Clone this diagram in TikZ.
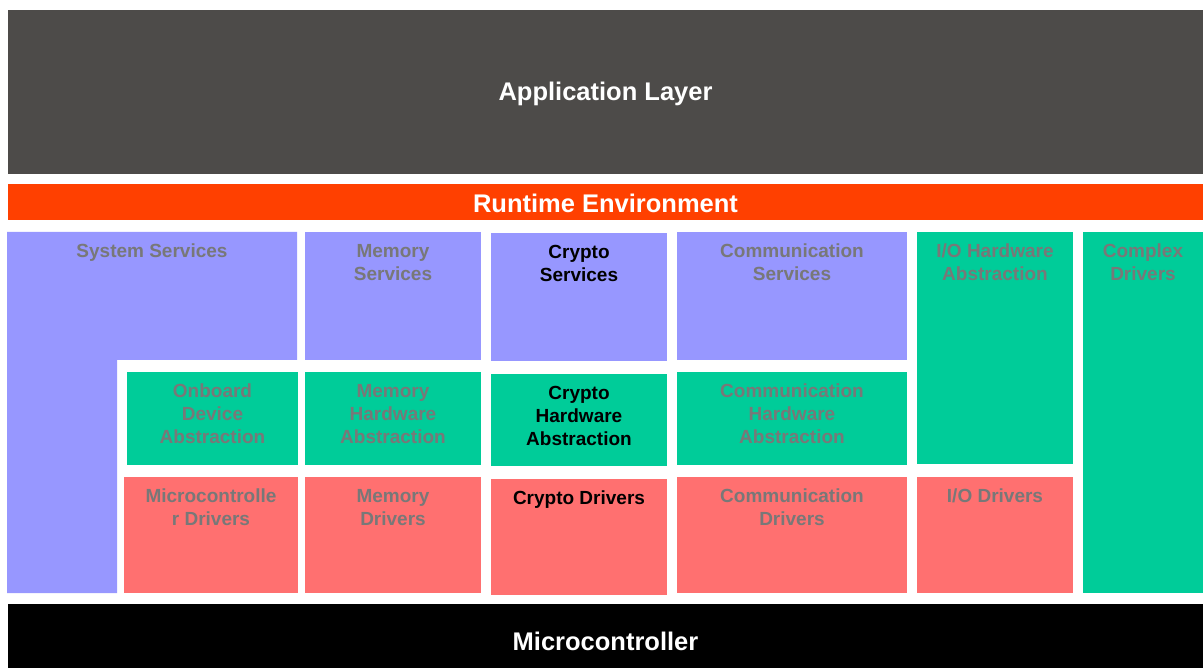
\documentclass[tikz,border=0pt]{standalone}
\usepackage{fontspec}
\setmainfont{Liberation Sans}
\definecolor{appgray}{HTML}{4D4B49}
\definecolor{rteorange}{HTML}{FF4000}
\definecolor{svcpurple}{HTML}{9797FF}
\definecolor{hwgreen}{HTML}{00CC99}
\definecolor{drvred}{HTML}{FF7070}
\definecolor{txtgray}{HTML}{787878}

\begin{document}
\begin{tikzpicture}[x = 1pt, y = -1pt,
        block/.style = {fill = #1, anchor = north west, inner sep = 0pt, outer sep = 0pt},
        tag/.style = {anchor = north, inner sep = 0pt, align = center, text = txtgray, yshift = -12pt,
                      font = \bfseries\fontsize{19}{23}\selectfont},
        title/.style = {text = white, inner sep = 0pt, font = \bfseries\fontsize{25.5}{30}\selectfont}]
    \useasboundingbox (0, 0) rectangle (1203, 668);

    % layers across the whole width
    \draw (8, 10)  node[block = appgray, minimum width = 1195, minimum height = 164] (app) {}
          (8, 184) node[block = rteorange, minimum width = 1195, minimum height = 36] (rte) {}
          (8, 604) node[block = black, minimum width = 1195, minimum height = 64] (mcu) {};
    \node[title] at ([yshift = -2pt]app.center) {Application Layer};
    \node[title] at ([yshift = -1pt]rte.center) {Runtime Environment};
    \node[title] at ([yshift = -5pt]mcu.center) {Microcontroller};

    % system services (L shape)
    \fill[svcpurple] (7, 232) -| (297, 360) -| (117, 593) -| cycle;
    \coordinate (syssvc) at (152, 232);
    \node[tag] at (syssvc) {System Services};

    % services
    \draw (305, 232) node[block = svcpurple, minimum width = 176, minimum height = 128] (memsvc) {}
          (491, 233) node[block = svcpurple, minimum width = 176, minimum height = 128] (crysvc) {}
          (677, 232) node[block = svcpurple, minimum width = 230, minimum height = 128] (comsvc) {}
          (917, 232) node[block = hwgreen, minimum width = 156, minimum height = 232] (iohw) {}
          (1083, 232) node[block = hwgreen, minimum width = 120, minimum height = 361] (cdd) {};

    % hardware abstraction
    \draw (127, 372) node[block = hwgreen, minimum width = 171, minimum height = 93] (onbhw) {}
          (305, 372) node[block = hwgreen, minimum width = 176, minimum height = 93] (memhw) {}
          (491, 374) node[block = hwgreen, minimum width = 176, minimum height = 92] (cryhw) {}
          (677, 372) node[block = hwgreen, minimum width = 230, minimum height = 93] (comhw) {};

    % drivers
    \draw (124, 477) node[block = drvred, minimum width = 174, minimum height = 116] (mcudrv) {}
          (305, 477) node[block = drvred, minimum width = 176, minimum height = 116] (memdrv) {}
          (491, 479) node[block = drvred, minimum width = 176, minimum height = 116] (crydrv) {}
          (677, 477) node[block = drvred, minimum width = 230, minimum height = 116] (comdrv) {}
          (917, 477) node[block = drvred, minimum width = 156, minimum height = 116] (iodrv) {};

    \node[tag] at (memsvc.north) {Memory\\Services};
    \node[tag, text = black] at (crysvc.north) {Crypto\\Services};
    \node[tag] at (comsvc.north) {Communication\\Services};
    \node[tag] at (iohw.north) {I/O Hardware\\Abstraction};
    \node[tag] at (cdd.north) {Complex\\Drivers};
    \node[tag] at (onbhw.north) {Onboard\\Device\\Abstraction};
    \node[tag] at (memhw.north) {Memory\\Hardware\\Abstraction};
    \node[tag, text = black] at (cryhw.north) {Crypto\\Hardware\\Abstraction};
    \node[tag] at (comhw.north) {Communication\\Hardware\\Abstraction};
    \node[tag] at (mcudrv.north) {Microcontrolle\\r Drivers};
    \node[tag] at (memdrv.north) {Memory\\Drivers};
    \node[tag, text = black] at (crydrv.north) {Crypto Drivers};
    \node[tag] at (comdrv.north) {Communication\\Drivers};
    \node[tag] at (iodrv.north) {I/O Drivers};
\end{tikzpicture}
\end{document}
